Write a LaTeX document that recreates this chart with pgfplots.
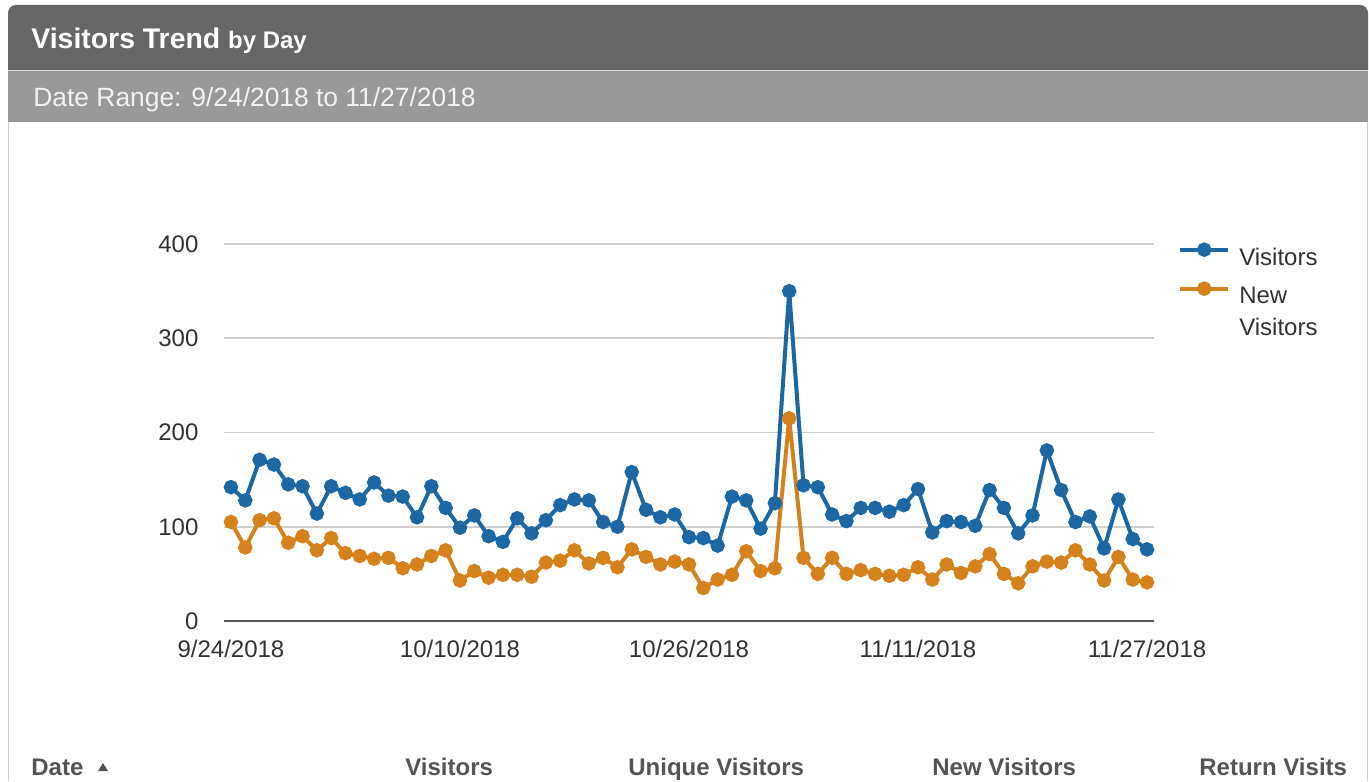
\documentclass[border=0pt]{standalone}
\usepackage{pgfplots}
\pgfplotsset{compat=1.18}
\usepackage{pgfplotstable}
\usepackage{fontspec}
\setmainfont{Liberation Sans}
\definecolor{vblue}{HTML}{1C68A5}
\definecolor{vorange}{HTML}{D6821C}
\definecolor{hdark}{HTML}{666666}
\definecolor{hlight}{HTML}{999999}
\definecolor{bordercol}{HTML}{CCCCCC}
\definecolor{gridcol}{HTML}{D0D0D0}
\definecolor{txt}{HTML}{333333}
\definecolor{hdr}{HTML}{555555}

\pgfplotstableread{
d v n
0 142 105
1 128 78
2 171 107
3 166 109
4 145 83
5 143 90
6 114 75
7 143 88
8 136 72
9 129 69
10 147 66
11 133 67
12 132 56
13 110 60
14 143 69
15 120 75
16 99 43
17 112 53
18 90 46
19 84 49
20 109 49
21 93 47
22 107 62
23 123 64
24 129 75
25 128 61
26 105 67
27 100 57
28 158 76
29 118 68
30 110 60
31 113 63
32 89 60
33 88 35
34 80 44
35 132 49
36 128 74
37 98 53
38 125 56
39 350 215
40 144 67
41 142 50
42 113 67
43 106 50
44 120 54
45 120 50
46 116 48
47 123 49
48 140 57
49 94 44
50 106 60
51 105 51
52 101 58
53 139 71
54 120 50
55 93 40
56 112 58
57 181 63
58 139 62
59 105 75
60 111 60
61 77 43
62 129 68
63 87 44
64 76 41
}\datatable

\begin{document}
\begin{tikzpicture}
\begin{scope}[x=0.5pt,y=-0.5pt]
\useasboundingbox (0,0) rectangle (1369,781);
\fill[white] (0,0) rectangle (1369,781);
\draw[bordercol, line width=0.7pt] (8.7,122) -- (8.7,781);
\draw[bordercol, line width=0.7pt] (1367.3,122) -- (1367.3,781);
\fill[hdark] (8,70) [rounded corners=4pt] -- (8,5) -- (1368,5) [sharp corners] -- (1368,70) -- cycle;
\fill[hlight] (8,70) rectangle (1368,122);
\draw[bordercol!70!white, line width=0.5pt] (8,70.5) -- (1368,70.5);
\node[anchor=base west, inner sep=0pt, text=white, font=\bfseries\fontsize{14.2}{16}\selectfont] at (31,49) {Visitors Trend \fontsize{12}{14}\selectfont by Day};
\node[anchor=base west, inner sep=0pt, text=white!95!black, font=\fontsize{13.2}{15}\selectfont] at (33,106) {Date Range: 9/24/2018 to 11/27/2018};
\begin{scope}[every node/.style={anchor=base west, inner sep=0pt, text=hdr, font=\bfseries\fontsize{12}{14}\selectfont}]
\node at (31,775) {Date};
\node at (405,775) {Visitors};
\node at (628,775) {Unique Visitors};
\node at (932,775) {New Visitors};
\node at (1199,775) {Return Visits};
\end{scope}
\fill[hdr] (98,771) -- (108,771) -- (103,763) -- cycle;
\end{scope}
\begin{axis}[
  at={(111.9pt,-310.5pt)}, anchor=south west,
  scale only axis, width=465.2pt, height=188.5pt,
  xmin=-0.5, xmax=64.5, ymin=0, ymax=400,
  clip=false,
  axis x line*=bottom, axis y line*=left,
  x axis line style={draw=hdr, line width=1.3pt, -},
  y axis line style={draw=none},
  xtick={0,16,32,48,64},
  xticklabels={9/24/2018,10/10/2018,10/26/2018,11/11/2018,11/27/2018},
  ytick={0,100,200,300,400},
  major tick length=0pt,
  ymajorgrids, grid style={gridcol, line width=0.8pt},
  xticklabel style={anchor=north, inner sep=0pt, yshift=-9.5pt, text=txt, font=\fontsize{12}{14}\selectfont},
  yticklabel style={anchor=east, inner sep=0pt, xshift=-12.5pt, text=txt, font=\fontsize{12}{14}\selectfont},
  /pgf/number format/assume math mode=true,
  legend style={at={(1.019,1.012)}, anchor=north west, draw=none, fill=none,
     font=\fontsize{12}{16}\selectfont, text=txt, row sep=5.5pt, column sep=2.5pt,
     cells={anchor=base west}},
  legend cell align=left,
  legend image code/.code={\draw[mark repeat=2,mark phase=2,#1] plot coordinates {(0pt,4.2pt) (12pt,4.2pt) (24pt,4.2pt)};},
]
\addplot[vblue, line width=2pt, mark=*, mark size=2.6pt, mark options={solid}] table[x=d,y=v] {\datatable};
\addlegendentry{Visitors}
\addplot[vorange, line width=2pt, mark=*, mark size=2.6pt, mark options={solid}] table[x=d,y=n] {\datatable};
\addlegendentry{\vtop{\hbox{New}\hbox{Visitors}}}
\end{axis}
\end{tikzpicture}
\end{document}
